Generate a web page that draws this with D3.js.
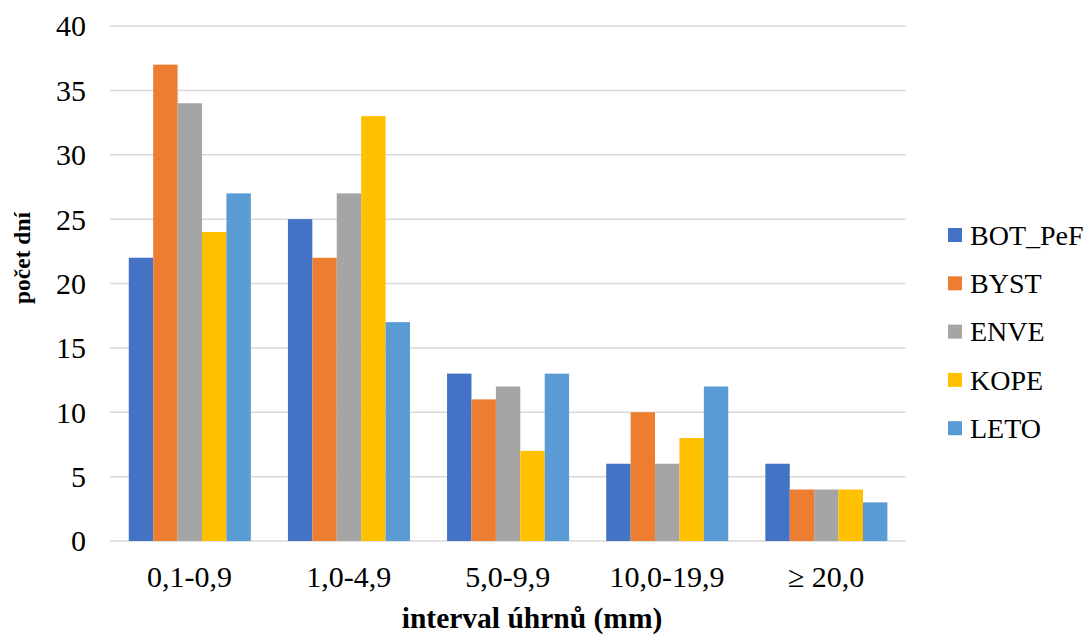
<!DOCTYPE html>
<html><head><meta charset="utf-8">
<script src="https://cdn.jsdelivr.net/npm/d3@7"></script>
<style>html,body{margin:0;padding:0;background:#fff;} svg text{font-family:"Liberation Serif","Times New Roman",serif !important;}</style>
</head><body>
<svg id="chart" width="1090" height="637"></svg>
<script>
const categories = ["0,1-0,9", "1,0-4,9", "5,0-9,9", "10,0-19,9", "\u2265 20,0"];
const seriesNames = ["BOT_PeF", "BYST", "ENVE", "KOPE", "LETO"];
const BOT_PeF = [22, 25, 13, 6, 6];
const BYST = [37, 22, 11, 10, 4];
const ENVE = [34, 27, 12, 6, 4];
const KOPE = [24, 33, 7, 8, 4];
const LETO = [27, 17, 13, 12, 3];
const yTicks = [0, 5, 10, 15, 20, 25, 30, 35, 40];
const colors = ["#4472C4", "#ED7D31", "#A5A5A5", "#FFC000", "#5B9BD5"];

(function () {
const seriesValues = [BOT_PeF, BYST, ENVE, KOPE, LETO];
const svg = d3.select("#chart");
const font = "Liberation Serif";
const pLeft = 110, pRight = 905.7, pTop = 26, pBottom = 541;

const x0 = d3.scaleBand().domain(categories).range([pLeft, pRight]).padding(0);
const bw = x0.bandwidth();
const x1 = d3.scaleBand().domain(seriesNames).range([bw * 0.118, bw * 0.885]).padding(0);
const y = d3.scaleLinear().domain([0, 40]).range([pBottom, pTop]);

// gridlines
svg.append("g").selectAll("line").data(yTicks).join("line")
  .attr("x1", pLeft).attr("x2", pRight)
  .attr("y1", d => y(d)).attr("y2", d => y(d))
  .attr("stroke", "#d9d9d9").attr("stroke-width", 1.5);

// y axis labels
const yAxis = d3.axisLeft(y).tickValues(yTicks).tickSize(0).tickPadding(0).tickFormat(d3.format("d"));
const yg = svg.append("g").attr("transform", `translate(${pLeft - 24},0)`).call(yAxis)
  .attr("font-family", null).attr("font-size", null);
yg.select(".domain").remove();
yg.selectAll("text").style("font-family", font).style("font-size", "30px").attr("fill", "#000").attr("dy", "0.33em");

// bars
const groups = svg.append("g").selectAll("g").data(categories).join("g")
  .attr("transform", d => `translate(${x0(d)},0)`);
groups.selectAll("rect").data((c, i) => seriesNames.map((s, j) => ({s, v: seriesValues[j][i], j})))
  .join("rect")
  .attr("x", d => x1(d.s)).attr("width", x1.bandwidth())
  .attr("y", d => y(d.v)).attr("height", d => y(0) - y(d.v))
  .attr("fill", d => colors[d.j]);

// x axis labels
const xAxis = d3.axisBottom(x0).tickSize(0).tickPadding(0);
const xg = svg.append("g").attr("transform", `translate(0,587)`).call(xAxis)
  .attr("font-family", null).attr("font-size", null);
xg.select(".domain").remove();
xg.selectAll("text").style("font-family", font).style("font-size", "30px").attr("fill", "#000").attr("dy", 0);

// axis titles
svg.append("text").attr("x", 532).attr("y", 628).attr("text-anchor", "middle")
  .style("font-family", font).style("font-weight", "bold").style("font-size", "29.5px").attr("fill", "#000")
  .text("interval úhrnů (mm)");
svg.append("text").attr("transform", "translate(30,258) rotate(-90)").attr("text-anchor", "middle")
  .style("font-family", font).style("font-weight", "bold").style("font-size", "23.5px").attr("fill", "#000")
  .text("počet dní");

// legend
const legend = svg.append("g").selectAll("g").data(seriesNames).join("g")
  .attr("transform", (d, i) => `translate(948,${235 + i * 48.3})`);
legend.append("rect").attr("x", 0).attr("y", -7).attr("width", 14).attr("height", 14)
  .attr("fill", (d, i) => colors[i]);
legend.append("text").attr("x", 22).attr("y", 0).attr("dy", "0.35em")
  .style("font-family", font).style("font-size", "28px").attr("fill", "#000").text(d => d);
})();
</script>
</body></html>
